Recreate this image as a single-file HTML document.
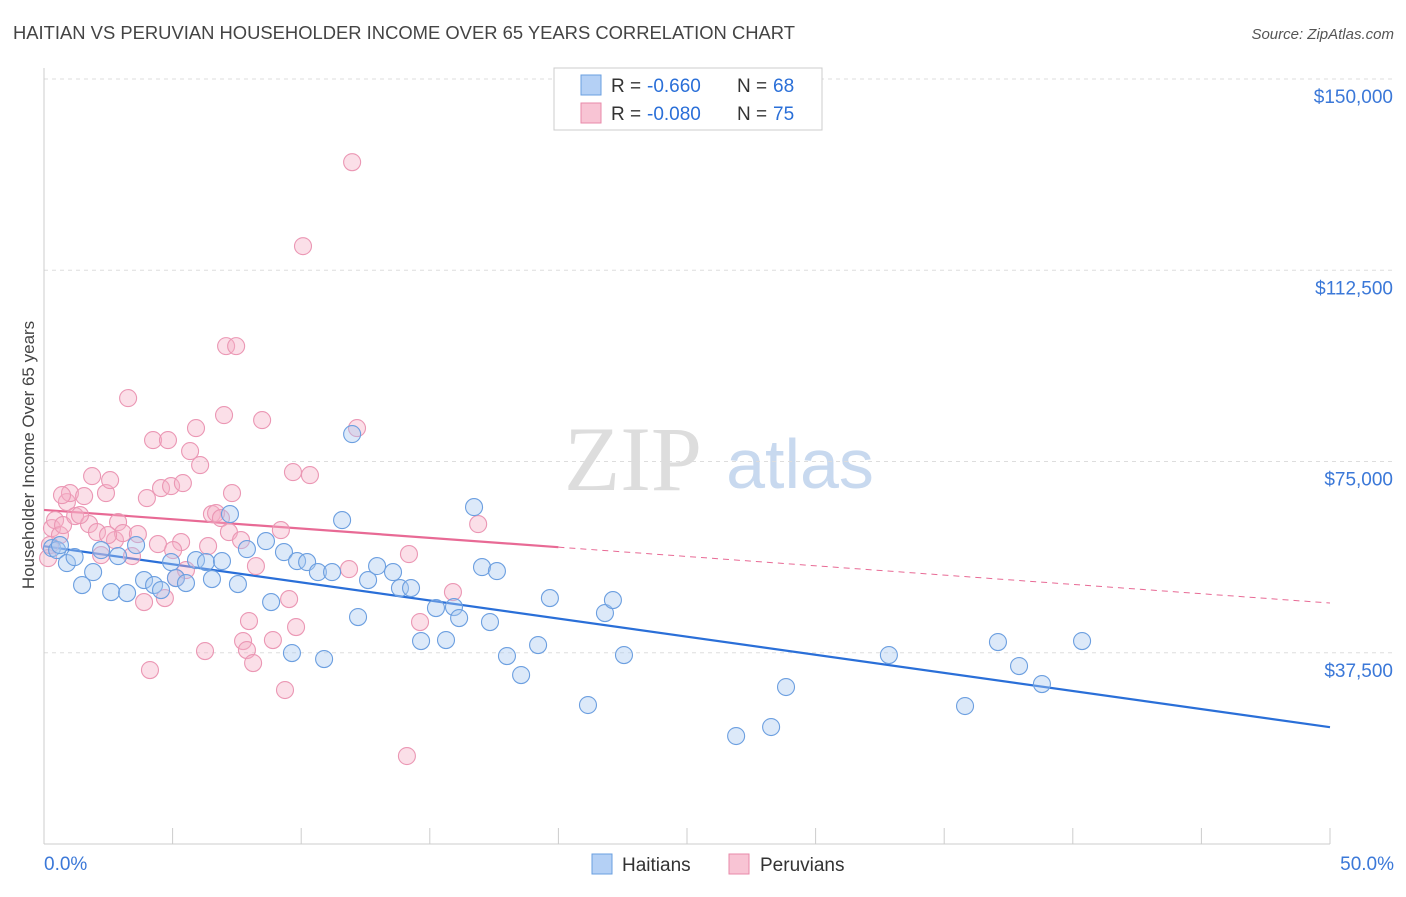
<!DOCTYPE html>
<html><head><meta charset="utf-8"><style>
body{margin:0;background:#fff;font-family:"Liberation Sans",sans-serif;}
</style></head><body>
<svg id="chart" width="1406" height="892" xmlns="http://www.w3.org/2000/svg" font-family="Liberation Sans, sans-serif">
<text x="13" y="39" font-size="18" fill="#444" textLength="782" lengthAdjust="spacingAndGlyphs">HAITIAN VS PERUVIAN HOUSEHOLDER INCOME OVER 65 YEARS CORRELATION CHART</text>
<text x="1394" y="39" font-size="15" fill="#555" font-style="italic" text-anchor="end">Source: ZipAtlas.com</text>
<g>
<text x="633" y="490" font-size="92" fill="#ddd" font-family="Liberation Serif, serif" text-anchor="middle">ZIP</text>
<text x="800" y="488" font-size="70" fill="#c8d9ef" text-anchor="middle">atlas</text>
</g>
<g id="grid"></g>
<g id="axes"></g>
<text transform="translate(34,455) rotate(-90)" font-size="17" fill="#444" text-anchor="middle">Householder Income Over 65 years</text>
<g id="lines"></g>
<g id="points"></g>
<g>
<rect x="554" y="68" width="268" height="62" fill="#fff" stroke="#ccc"/>
<rect x="581" y="75" width="20" height="20" fill="#b4d0f5" stroke="#6a9fe0"/>
<text x="611" y="92" font-size="19" fill="#333">R =</text>
<text x="647" y="92" font-size="19" fill="#2a6fd8">-0.660</text>
<text x="737" y="92" font-size="19" fill="#333">N =</text>
<text x="773" y="92" font-size="19" fill="#2a6fd8">68</text>
<rect x="581" y="103" width="20" height="20" fill="#f8c4d4" stroke="#e88aaa"/>
<text x="611" y="120" font-size="19" fill="#333">R =</text>
<text x="647" y="120" font-size="19" fill="#2a6fd8">-0.080</text>
<text x="737" y="120" font-size="19" fill="#333">N =</text>
<text x="773" y="120" font-size="19" fill="#2a6fd8">75</text>
</g>
<g>
<rect x="592" y="854" width="20" height="20" fill="#b4d0f5" stroke="#6a9fe0"/>
<text x="622" y="871" font-size="19" fill="#333">Haitians</text>
</g>
<g>
<rect x="729" y="854" width="20" height="20" fill="#f8c4d4" stroke="#e88aaa"/>
<text x="760" y="871" font-size="19" fill="#333">Peruvians</text>
</g>
</svg>
<script>
const yTicks=[37500,75000,112500,150000];
const yTickLabels=["$37,500","$75,000","$112,500","$150,000"];
const xTickLabels=["0.0%","50.0%"];
const haitianX=[0.31,0.51,0.62,0.89,1.19,1.48,1.91,2.22,2.61,2.88,3.23,3.58,3.89,4.28,4.55,4.94,5.13,5.52,5.91,6.30,6.53,6.92,7.23,7.54,7.89,8.63,8.83,9.33,9.64,9.84,10.23,10.65,10.89,11.20,11.59,11.98,12.21,12.60,12.95,13.57,13.84,14.27,14.66,15.24,15.63,15.94,16.14,16.72,17.03,17.34,17.61,18.00,18.55,19.21,19.67,21.15,21.81,22.12,22.55,26.91,28.27,28.85,32.85,35.81,37.09,37.91,38.80,40.36];
const haitianY=[58025,57633,58613,55084,56261,50772,53320,57633,49400,56457,49204,58613,51752,50772,49792,55280,52144,51164,55673,55280,51948,55476,64690,50968,57829,59397,47439,57241,37442,55476,55280,53320,36266,53320,63514,80372,44499,51752,54496,53320,50184,50184,39794,46263,39990,46459,44303,66062,54300,43519,53516,36854,33129,39010,48223,27248,45283,47831,37050,21171,22936,30777,37050,27052,39598,34893,31365,39794];
const peruvianX=[0.16,0.23,0.31,0.43,0.62,0.74,0.89,1.01,1.21,1.56,1.75,1.87,2.06,2.22,2.41,2.57,2.76,2.88,3.07,3.27,3.42,3.65,3.89,4.00,4.12,4.24,4.43,4.55,4.70,4.82,4.94,5.13,5.33,5.40,5.68,5.91,6.07,6.26,6.38,6.53,6.69,6.88,7.00,7.08,7.19,7.31,7.47,7.66,7.74,7.89,7.97,8.13,8.24,8.48,8.90,9.21,9.37,9.53,9.68,9.80,10.07,10.34,11.86,11.98,12.17,14.11,14.19,14.62,15.90,16.88,5.02,5.52,2.49,1.40,0.70];
const peruvianY=[56065,58613,61945,63514,60573,62534,67042,68807,64298,68218,62730,72139,61161,56653,68807,71355,59593,63122,60965,87429,56457,60769,47439,67826,34109,79196,58809,69787,48223,79196,70179,52144,59201,70767,77040,81548,74295,37834,58417,64690,64886,63906,84097,97623,61161,68807,97623,59593,39794,38030,43715,35481,54496,83117,39990,61553,30189,48027,72923,42539,117226,72335,53908,133693,81548,17251,56849,43519,49400,62730,57633,53712,60573,64494,68414];
const haitianTrend=[58400,22900];
const peruvianTrend=[65500,47250];
const peruvianSolidEnd=20;

const NS="http://www.w3.org/2000/svg";
const X0=44,X1=1330,Y0=844,YTOP=79;
const sx=v=>X0+(v/50)*(X1-X0);
const sy=v=>Y0-(v/150000)*(Y0-YTOP);
function mk(tag,attrs,parent){const e=document.createElementNS(NS,tag);for(const k in attrs)e.setAttribute(k,attrs[k]);parent.appendChild(e);return e;}
const grid=document.getElementById('grid'),axes=document.getElementById('axes');
yTicks.forEach((t,i)=>{
 const l=mk('line',{x1:X0,x2:1394,y1:sy(t),y2:sy(t),stroke:'#ddd','stroke-dasharray':'4,4'},grid);
 
 
 const tx=mk('text',{x:1393,y:sy(t)+24,'font-size':19,fill:'#3b78d8','text-anchor':'end'},axes);
 tx.textContent=yTickLabels[i];
 
 
});
const ax=mk('line',{x1:X0,x2:X0,y1:68,y2:Y0,stroke:'#ccc'},axes);


const bx=mk('line',{x1:X0,x2:X1,y1:Y0,y2:Y0,stroke:'#ccc'},axes);


for(let i=0;i<=10;i++){
 const x=sx(i*5);
 const tk=mk('line',{x1:x,x2:x,y1:828,y2:Y0,stroke:'#ccc'},axes);
 
 
}
[[0,'start',X0],[50,'end',1394]].forEach((p,i)=>{
 const t=mk('text',{x:p[2],y:870,'font-size':19,fill:'#3b78d8','text-anchor':p[1]},axes);
 t.textContent=xTickLabels[i];
 
 
});
const pts=document.getElementById('points');
function drawPts(xs,ys,fill,stroke,name){
 xs.forEach((v,i)=>{
  const c=mk('circle',{cx:sx(v),cy:sy(ys[i]),r:8.5,fill:fill,'fill-opacity':0.4,stroke:stroke,'stroke-width':1.1},pts);
  
  
 });
}
drawPts(peruvianX,peruvianY,'#f5b0c6','#eb97b4','peruvian-point');
drawPts(haitianX,haitianY,'#a8c8f0','#6c9fe0','haitian-point');
const lines=document.getElementById('lines');
const bl=mk('line',{x1:sx(0),y1:sy(haitianTrend[0]),x2:sx(50),y2:sy(haitianTrend[1]),stroke:'#2a6fd8','stroke-width':2.2},lines);


const pAt=v=>peruvianTrend[0]+(peruvianTrend[1]-peruvianTrend[0])*v/50;
const pl=mk('line',{x1:sx(0),y1:sy(pAt(0)),x2:sx(peruvianSolidEnd),y2:sy(pAt(peruvianSolidEnd)),stroke:'#e86a95','stroke-width':2.2},lines);


const pd=mk('line',{x1:sx(peruvianSolidEnd),y1:sy(pAt(peruvianSolidEnd)),x2:sx(50),y2:sy(pAt(50)),stroke:'#e86a95','stroke-width':1,'stroke-dasharray':'6,5'},lines);


</script>
</body></html>
